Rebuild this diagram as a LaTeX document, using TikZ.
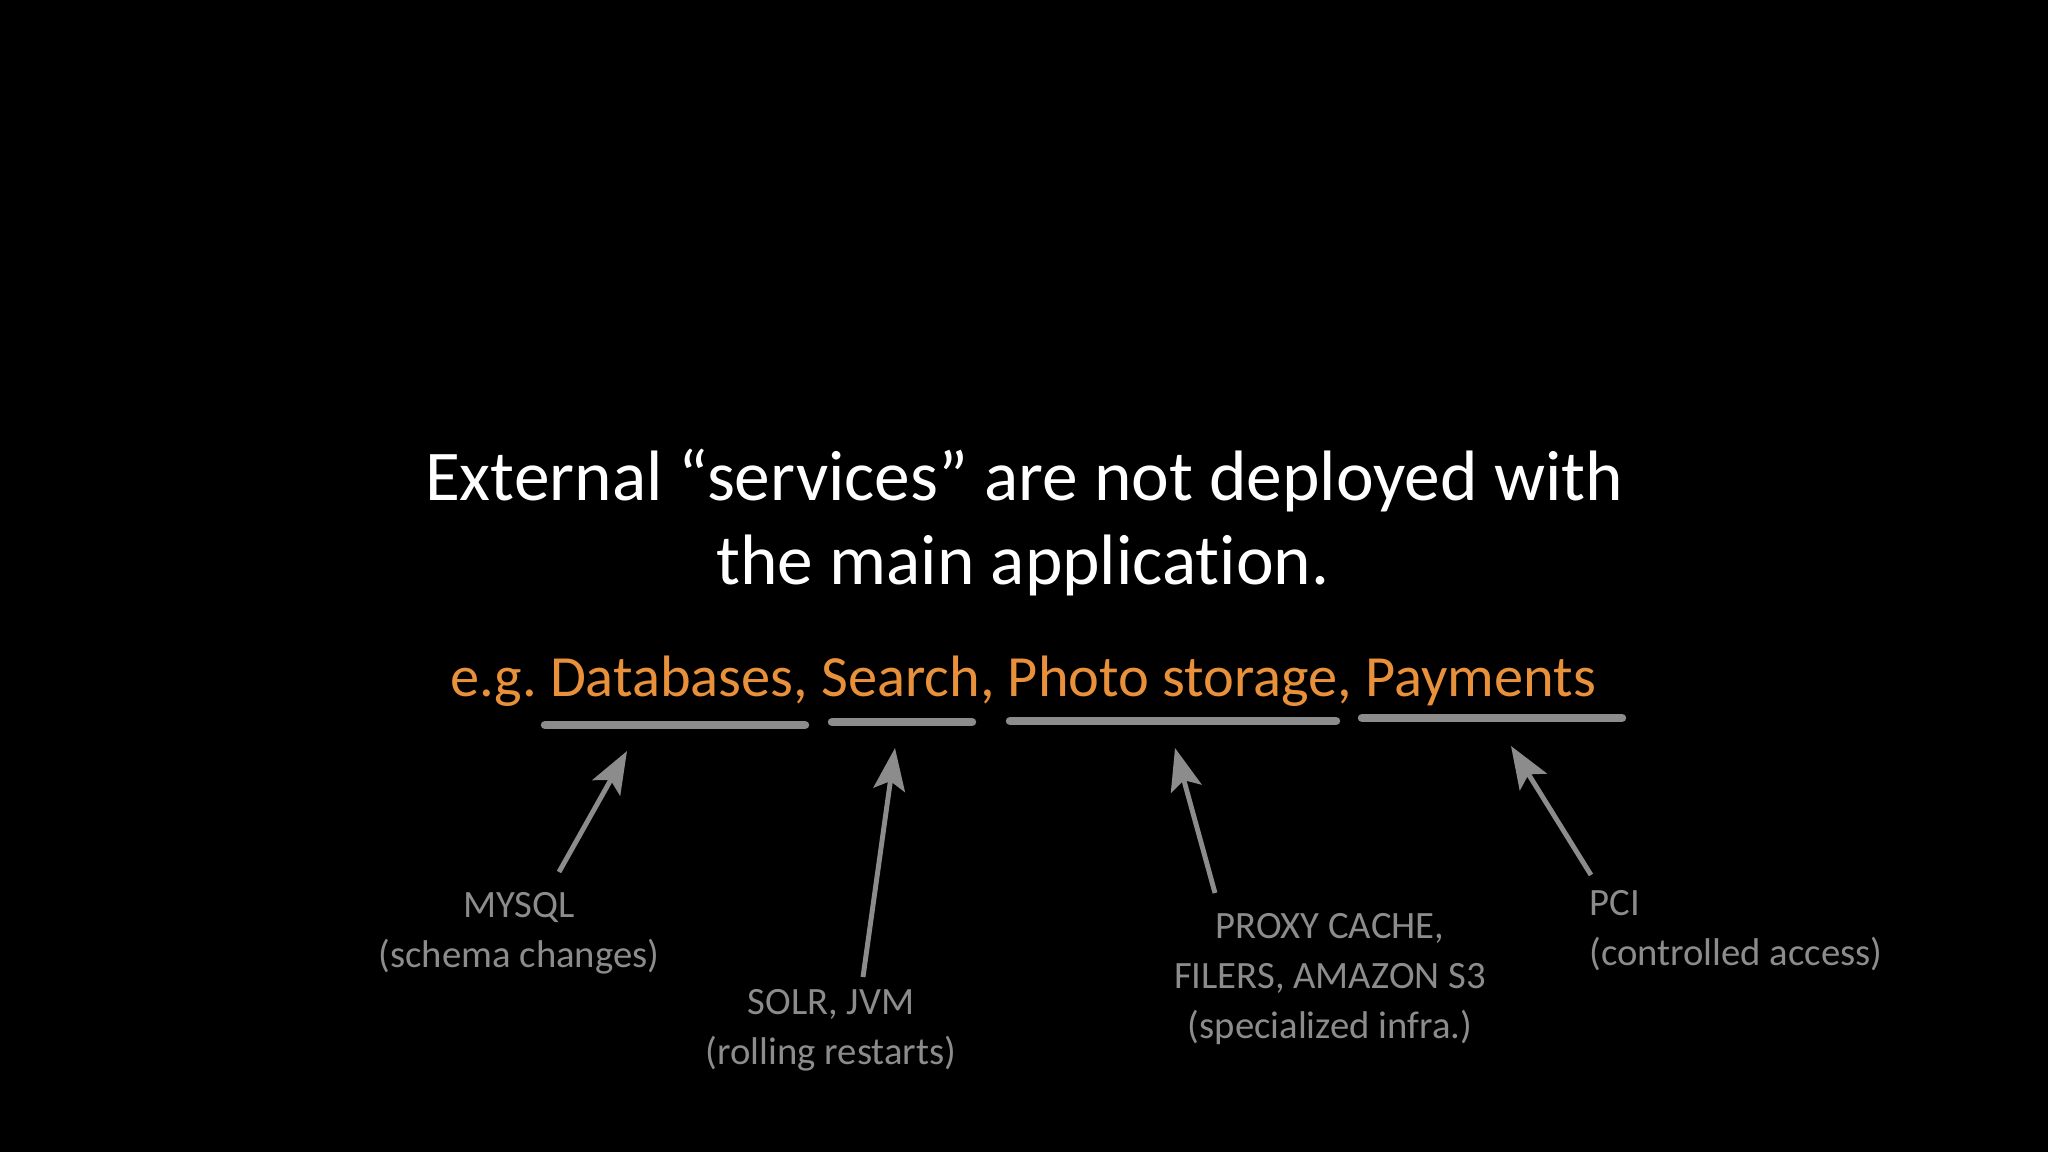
\documentclass[tikz,border=0pt]{standalone}
\usepackage{fontspec}
\setmainfont{Carlito}[Ligatures=NoCommon]
\usetikzlibrary{arrows.meta}
\definecolor{slideorange}{HTML}{E8913A}
\definecolor{chalk}{HTML}{8C8C8C}
\frenchspacing
\begin{document}
\begin{tikzpicture}[x=0.01cm,y=-0.01cm,
                    head line/.style={text=white,font=\fontsize{20.3}{25}\selectfont,anchor=base},
                    eg line/.style={text=slideorange,font=\fontsize{16.6}{20}\selectfont,anchor=base},
                    chalk label/.style={text=chalk,font=\fontsize{11}{14.2}\selectfont,align=center},
                    chalk line/.style={draw=chalk,line width=2.4pt,line cap=round},
                    chalk arrow/.style={draw=chalk,line width=1.4pt,-{Stealth[length=12pt,width=9pt,inset=2.5pt]}}
                   ]
  \fill[black] (0,0) rectangle (2048,1152);

  \node[head line] (head1) at (1024,501) {External “services” are not deployed with};
  \node[head line] (head2) at (1023,584) {the main application.};
  \node[eg line] (eg) at (1023,696) {e.g. Databases, Search, Photo storage, Payments};

  % underlines
  \coordinate (db1) at (545,725);  \coordinate (db2) at (805,725);
  \coordinate (se1) at (832,722);  \coordinate (se2) at (972,722);
  \coordinate (ph1) at (1010,721); \coordinate (ph2) at (1336,721);
  \coordinate (pa1) at (1362,718); \coordinate (pa2) at (1622,718);
  \draw[chalk line] (db1) -- (db2);
  \draw[chalk line] (se1) -- (se2);
  \draw[chalk line] (ph1) -- (ph2);
  \draw[chalk line] (pa1) -- (pa2);

  % labels
  \node[chalk label] (mysql) at (519,933) {MYSQL\\(schema changes)};
  \node[chalk label] (solr) at (831,1030) {SOLR, JVM\\(rolling restarts)};
  \node[chalk label] (proxy) at (1330,979) {PROXY CACHE,\\FILERS, AMAZON S3\\(specialized infra.)};
  \node[chalk label,align=left,anchor=west] (pci) at (1577,931) {PCI\\(controlled access)};

  % arrows
  \coordinate (mysqlt) at (559,872);  \coordinate (mysqlh) at (627,751);
  \coordinate (solrt) at (863,977);   \coordinate (solrh) at (895,748);
  \coordinate (proxyt) at (1215,893); \coordinate (proxyh) at (1175,748);
  \coordinate (pcit) at (1591,875);   \coordinate (pcih) at (1511,746);
  \path
   (mysqlt) edge [chalk arrow] (mysqlh)
   (solrt) edge [chalk arrow] (solrh)
   (proxyt) edge [chalk arrow] (proxyh)
   (pcit) edge [chalk arrow] (pcih);
\end{tikzpicture}
\end{document}
